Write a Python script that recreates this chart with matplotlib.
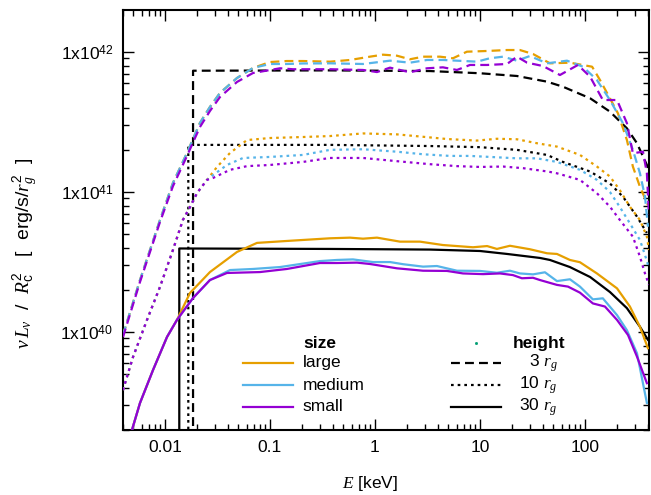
import numpy as np
import matplotlib
matplotlib.use("Agg")
import matplotlib.pyplot as plt
from matplotlib.ticker import LogLocator, FuncFormatter, NullFormatter

plt.rcParams["font.family"] = ["Liberation Sans", "DejaVu Sans"]
plt.rcParams["mathtext.fontset"] = "custom"
plt.rcParams["mathtext.rm"] = "Liberation Sans"
plt.rcParams["mathtext.sf"] = "Liberation Sans"
plt.rcParams["mathtext.it"] = "Liberation Serif:italic"
plt.rcParams["mathtext.bf"] = "Liberation Sans:bold"

# energies in keV, luminosities in units of 1e40 erg/s/rg^2
UNIT = 1e40

# --- black step models (height) ---
e_black_3 = [0.0185, 0.0185, 0.373, 3.34, 10, 22.5, 43.5, 61.7, 112, 173, 251, 313, 389, 398]
l_black_3 = [0.05, 73.5, 73.9, 73.1, 70.5, 67.4, 61.4, 56.5, 46.7, 37.5, 28.5, 22.3, 15.6, 14.8]
e_black_10 = [0.01667, 0.01667, 0.373, 3.34, 10, 22.5, 43.5, 61.7, 112, 173, 230, 313, 389]
l_black_10 = [0.05, 21.7, 21.7, 21.3, 20.9, 20.0, 18.4, 16.4, 14.0, 11.5, 9.25, 6.67, 5.10]
e_black_30 = [0.01368, 0.01368, 0.373, 3.34, 10, 18.1, 37.3, 46.4, 71.9, 112, 173, 251, 334, 398]
l_black_30 = [0.05, 3.95, 3.92, 3.88, 3.79, 3.61, 3.38, 3.27, 2.91, 2.47, 1.93, 1.48, 1.09, 0.88]

# --- 3 rg ---
e_large_3 = [0.00398, 0.00578, 0.00896, 0.0119, 0.0162, 0.0215, 0.0268, 0.0334, 0.0485, 0.0689,
             0.1, 0.145, 0.206, 0.373, 0.578, 0.896, 1.19, 1.62, 2.15, 2.87, 4.16, 5.53, 7.51,
             11.7, 18.1, 24.0, 32.0, 46.4, 71.9, 117, 139, 173, 206, 251, 286, 334, 398]
l_large_3 = [0.952, 2.35, 6.31, 11.6, 19.0, 31.1, 40.5, 51.0, 65.2, 76.9,
             84.8, 86.2, 86.2, 85.3, 87.7, 92.6, 95.7, 94.1, 88.7, 92.6, 92.6, 90.2, 100.5,
             101.7, 103.3, 103.3, 96.8, 83.0, 83.9, 78.5, 63.1, 46.7, 36.5, 23.5, 15.2, 10.9, 8.07]
e_medium_3 = [0.00398, 0.00578, 0.00896, 0.0119, 0.0162, 0.0215, 0.0268, 0.0334, 0.0485, 0.0689,
              0.1, 0.145, 0.206, 0.373, 0.769, 1.39, 2.15, 3.13, 4.44, 6.04, 9.36, 12.4, 16.6,
              22.5, 29.9, 43.5, 67.4, 95.7, 130, 173, 230, 286, 334, 373, 398]
l_medium_3 = [0.952, 2.35, 6.31, 11.6, 19.0, 31.1, 40.5, 51.0, 65.2, 76.9,
              82.1, 82.1, 82.8, 83.0, 82.1, 86.7, 83.9, 87.7, 87.7, 86.7, 85.3, 90.2, 92.6,
              86.7, 93.6, 83.0, 86.7, 78.5, 63.1, 45.4, 31.0, 20.0, 13.6, 9.28, 5.65]
e_small_3 = [0.00398, 0.00578, 0.00896, 0.0119, 0.0162, 0.0215, 0.0268, 0.0334, 0.0485, 0.0689,
             0.1245, 0.1655, 0.373, 0.769, 1.045, 1.39, 2.15, 3.13, 4.44, 6.04, 8.03, 11.7, 18.1,
             22.5, 28.1, 39.8, 57.8, 85.7, 112, 148, 202, 251, 286, 357, 389, 407]
l_small_3 = [0.92, 2.28, 6.11, 11.0, 18.1, 29.1, 37.9, 47.7, 61.1, 70.8,
             76.5, 75.3, 75.3, 74.4, 71.9, 77.3, 71.6, 76.5, 77.7, 74.4, 80.8, 80.8, 82.1,
             92.6, 83.9, 79.4, 68.5, 80.8, 66.6, 45.4, 45.4, 31.0, 18.9, 19.4, 13.6, 6.86]

# --- 10 rg ---
e_large_10 = [0.00398, 0.00496, 0.00674, 0.00896, 0.0119, 0.0148, 0.0173, 0.0202, 0.0251, 0.0313,
              0.0416, 0.0604, 0.1, 0.206, 0.373, 0.769, 1.62, 2.87, 4.85, 9.36, 14.5, 22.5,
              34.9, 54.1, 89.6, 130, 173, 215, 268, 334, 389, 407]
l_large_10 = [0.385, 0.663, 1.22, 2.10, 3.85, 6.31, 7.81, 9.84, 12.2, 15.1,
              19.0, 23.5, 24.3, 24.7, 25.1, 26.2, 25.8, 24.8, 23.9, 23.3, 24.0, 23.8,
              22.3, 21.1, 18.4, 15.2, 12.9, 10.3, 7.85, 6.31, 4.80, 3.85]
e_medium_10 = [0.00398, 0.00496, 0.00674, 0.00896, 0.0119, 0.0148, 0.0173, 0.0202, 0.0251,
               0.0287, 0.0389, 0.0553, 0.1, 0.206, 0.373, 0.769, 1.62, 2.87, 5.18, 8.03, 14.5,
               22.5, 34.9, 54.1, 89.6, 130, 173, 215, 268, 334, 373, 407]
l_medium_10 = [0.385, 0.663, 1.22, 2.10, 3.85, 6.31, 7.81, 9.84, 12.2,
               13.2, 15.6, 17.5, 17.8, 18.4, 20.0, 20.2, 19.4, 18.6, 18.1, 18.1, 17.7,
               17.4, 17.4, 16.4, 14.4, 12.2, 10.0, 7.81, 5.97, 4.54, 3.55, 2.86]
e_small_10 = [0.00398, 0.00496, 0.00674, 0.00896, 0.0119, 0.0148, 0.0173, 0.0202, 0.0251,
              0.0287, 0.0416, 0.0604, 0.1, 0.206, 0.373, 0.769, 1.62, 3.34, 6.04, 10, 16.6,
              25.7, 44.4, 54.1, 89.6, 130, 173, 215, 286, 334, 373, 407]
l_small_10 = [0.385, 0.663, 1.22, 2.10, 3.85, 6.31, 7.81, 9.84, 12.2,
              12.6, 14.4, 15.3, 15.6, 16.4, 17.5, 17.5, 16.6, 15.8, 15.3, 15.1, 15.2,
              14.8, 14.0, 13.6, 12.2, 9.80, 7.85, 6.31, 4.80, 3.45, 2.62, 2.17]

# --- 30 rg ---
e_large_30 = [0.00398, 0.00485, 0.00578, 0.00769, 0.01045, 0.0130,
              0.0173, 0.0268, 0.0485, 0.0752, 0.145, 0.373, 0.578, 0.769, 1.045, 1.73,
              2.68, 4.44, 6.04, 8.58, 11.7, 14.5, 19.3, 29.9, 43.5, 54.1,
              71.9, 89.6, 130, 202, 268, 334, 398]
l_large_30 = [0.130, 0.2, 0.311, 0.535, 0.921, 1.22,
              1.90, 2.68, 3.73, 4.33, 4.47, 4.67, 4.72, 4.64, 4.72, 4.42,
              4.42, 4.18, 4.11, 4.03, 4.11, 3.92, 4.13, 3.90, 3.65, 3.61,
              3.27, 3.15, 2.62, 2.05, 1.52, 1.09, 0.766]
e_medium_30 = [0.00398, 0.00485, 0.00578, 0.00769, 0.01045, 0.0130,
               0.0185, 0.0268, 0.0416, 0.0689, 0.1245, 0.225, 0.299, 0.434, 0.617, 0.957,
               1.39, 1.85, 2.87, 3.89, 6.04, 10, 14.5, 19.3, 24.0, 32.0,
               41.6, 54.1, 71.9, 89.6, 119, 148, 202, 251, 313, 389]
l_medium_30 = [0.130, 0.2, 0.311, 0.535, 0.921, 1.22,
               1.75, 2.35, 2.77, 2.82, 2.91, 3.11, 3.21, 3.27, 3.30, 3.16,
               3.16, 3.05, 2.93, 2.96, 2.74, 2.73, 2.65, 2.74, 2.62, 2.58,
               2.67, 2.31, 2.38, 2.11, 1.71, 1.74, 1.32, 1.03, 0.705, 0.311]
e_small_30 = [0.00398, 0.00485, 0.00578, 0.00769, 0.01045, 0.0130,
              0.0185, 0.0268, 0.0389, 0.0803, 0.145, 0.299, 0.434, 0.674, 0.896, 1.62,
              2.87, 4.85, 6.89, 10.7, 15.5, 20.6, 25.1, 32.0, 37.3, 54.1,
              68.9, 89.6, 119, 155, 202, 257, 313, 389]
l_small_30 = [0.130, 0.2, 0.311, 0.535, 0.921, 1.22,
              1.75, 2.35, 2.64, 2.68, 2.82, 3.11, 3.11, 3.13, 3.06, 2.85,
              2.74, 2.73, 2.62, 2.59, 2.62, 2.55, 2.42, 2.44, 2.35, 2.17,
              2.11, 1.91, 1.60, 1.52, 1.22, 0.952, 0.667, 0.431]

size_labels = ["large", "medium", "small"]
height_labels = [r"3 $r_g$", r"10 $r_g$", r"30 $r_g$"]

colors = {"large": "#E69F00", "medium": "#56B4E9", "small": "#9400D3"}
DASH = (4.0, 2.3)
DOT = (1.2, 1.8)
LW = 1.6

fig = plt.figure(figsize=(6.51, 4.95), dpi=100)
ax = fig.add_axes([123 / 651, 65 / 495, 526 / 651, 420 / 495])


def draw(e, l, color, dash, z):
    line, = ax.plot(e, np.array(l) * UNIT, color=color, lw=LW, zorder=z,
                    dash_capstyle="butt")
    if dash:
        line.set_dashes(dash)


draw(e_black_3, l_black_3, "black", DASH, 2)
draw(e_black_10, l_black_10, "black", DOT, 2)
draw(e_black_30, l_black_30, "black", None, 2)

draw(e_large_3, l_large_3, colors["large"], DASH, 3)
draw(e_medium_3, l_medium_3, colors["medium"], DASH, 3)
draw(e_small_3, l_small_3, colors["small"], DASH, 3)
draw(e_large_10, l_large_10, colors["large"], DOT, 3)
draw(e_medium_10, l_medium_10, colors["medium"], DOT, 3)
draw(e_small_10, l_small_10, colors["small"], DOT, 3)
draw(e_large_30, l_large_30, colors["large"], None, 3)
draw(e_medium_30, l_medium_30, colors["medium"], None, 3)
draw(e_small_30, l_small_30, colors["small"], None, 3)

ax.set_xscale("log")
ax.set_yscale("log")
ax.set_xlim(10 ** -2.4, 10 ** 2.61)
ax.set_ylim(10 ** 39.3, 10 ** 42.3)

ax.xaxis.set_major_locator(LogLocator(base=10, numticks=20))
ax.xaxis.set_minor_locator(LogLocator(base=10, subs=np.arange(2, 10), numticks=20))
ax.yaxis.set_major_locator(LogLocator(base=10, numticks=20))
ax.yaxis.set_minor_locator(LogLocator(base=10, subs=np.arange(2, 10), numticks=20))
ax.xaxis.set_minor_formatter(NullFormatter())
ax.yaxis.set_minor_formatter(NullFormatter())
ax.xaxis.set_major_formatter(FuncFormatter(lambda v, p: "%g" % v))
ax.yaxis.set_major_formatter(
    FuncFormatter(lambda v, p: r"1x10$^{%d}$" % int(round(np.log10(v)))))

ax.tick_params(which="both", direction="in", top=True, right=True, width=1.0,
               labelsize=12.5)
ax.tick_params(which="major", length=8, pad=7)
ax.tick_params(which="minor", length=4.5)
for sp in ax.spines.values():
    sp.set_linewidth(1.5)

ax.set_xlabel(r"$E$ [keV]", fontsize=12.5)
ax.xaxis.set_label_coords(0.47, -0.105)
ax.set_ylabel(r"$\nu\, L_\nu$  /  $R_{\mathrm{c}}^2$   [  erg/s/$r_g^2$  ]", fontsize=14)
ax.yaxis.set_label_coords(-0.158, 0.42)

# legend, drawn by hand in axes coordinates
fs = 12.5
ax.text(0.342, 0.205, "size", transform=ax.transAxes, fontsize=fs, fontweight="bold",
        va="center", ha="left")
ax.text(0.741, 0.205, "height", transform=ax.transAxes, fontsize=fs, fontweight="bold",
        va="center", ha="left")
rows = [0.160, 0.107, 0.055]
for y, name in zip(rows, size_labels):
    ax.plot([0.228, 0.323], [y, y], transform=ax.transAxes, color=colors[name], lw=LW)
    ax.text(0.342, y, name, transform=ax.transAxes, fontsize=fs, va="center", ha="left")
for y, lab, dash in zip(rows, height_labels, [DASH, DOT, None]):
    line, = ax.plot([0.624, 0.719], [y, y], transform=ax.transAxes, color="black", lw=LW,
                    dash_capstyle="butt")
    if dash:
        line.set_dashes(dash)
    ax.text(0.827, y, lab, transform=ax.transAxes, fontsize=fs, va="center", ha="right")
ax.plot([0.671], [0.207], transform=ax.transAxes, marker="s", ms=1, color="#009E73", lw=0)

fig.savefig("out.png", dpi=100)
